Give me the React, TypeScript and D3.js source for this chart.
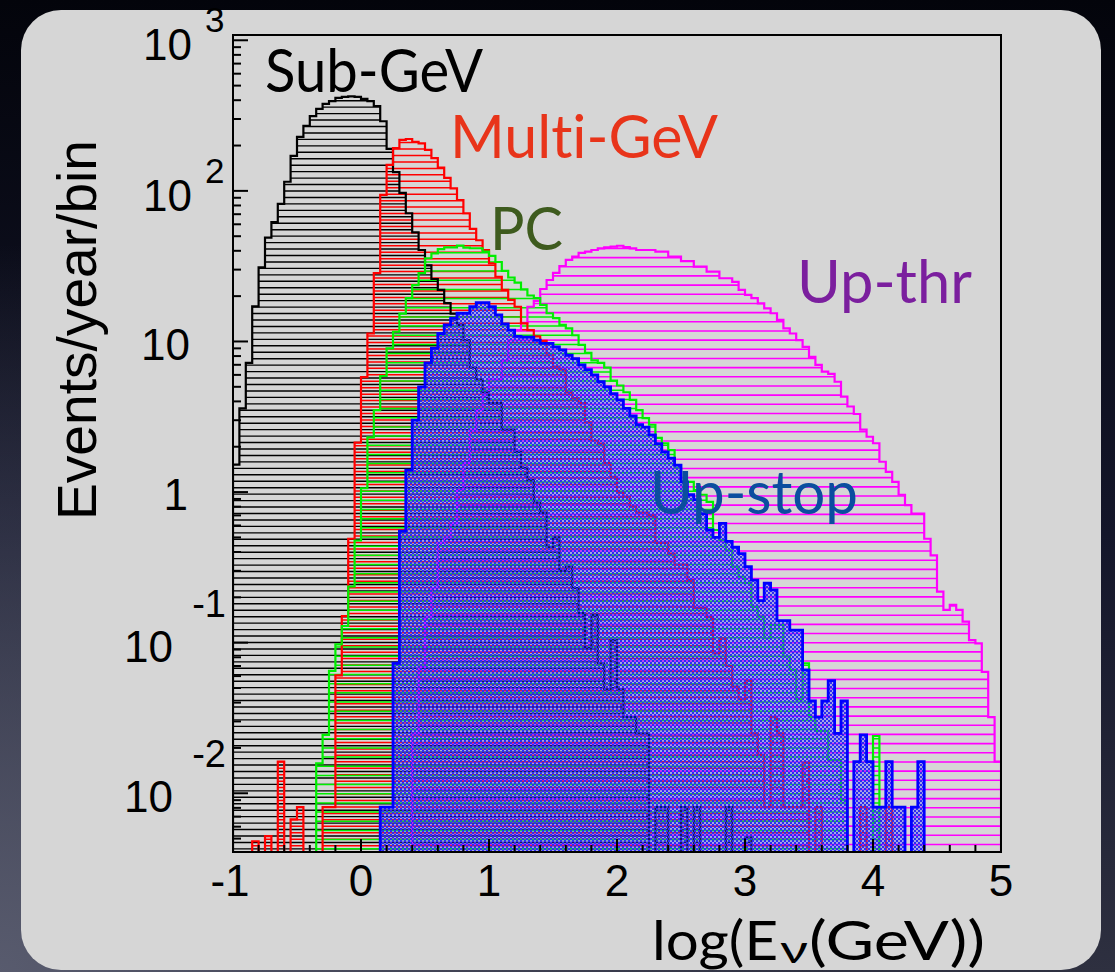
import React from 'react';
import * as d3 from 'd3';

// ---- binning (120 bins of 0.05 in log10(E/GeV) from -1 to 5) ----
const X_MIN = -1;
const BIN_W = 0.05;

// ---- series values (events / year / bin) ----
const subGeV = [
  1.52, 3.6, 7.2, 17.1, 31, 49, 62, 82, 115, 171,
  228, 270, 314, 350, 378, 395, 414, 421, 424, 421,
  408, 395, 366, 290, 190, 133, 97, 71, 53, 40.5,
  32, 26, 22, 18, 15.3, 12.9, 10.2, 6.7, 5.6, 4.6,
  3.9, 3.9, 2.6, 2.6, 1.85, 1.45, 1.2, 0.85, 0.73, 0.43,
  0.5, 0.3, 0.32, 0.23, 0.157, 0.092, 0.153, 0.073, 0.049, 0.104,
  0.049, 0.032, 0.032, 0.025, 0.025, 0, 0.0081, 0.0081, 0, 0,
  0.0081, 0, 0.0081, 0, 0, 0, 0, 0.0081, 0, 0,
  0.0051, 0, 0, 0, 0, 0, 0, 0, 0, 0,
  0, 0, 0, 0, 0, 0, 0, 0, 0, 0,
  0, 0, 0, 0, 0, 0, 0, 0, 0, 0,
  0, 0, 0, 0, 0, 0, 0, 0, 0, 0,
];

const multiGeV = [
  0, 0, 0, 0.0048, 0, 0.0052, 0, 0.0162, 0, 0.0067,
  0.0081, 0, 0, 0, 0.0081, 0.0081, 0.0606, 0.15, 0.49, 2.13,
  5.8, 11.3, 28.4, 94, 149, 192, 218, 221, 212, 207,
  187, 165, 143, 122, 104, 87, 71, 56, 47, 40.5,
  33, 26.9, 22, 18.9, 17, 13.2, 11.9, 10.8, 10.1, 8.1,
  6.8, 6.5, 4.6, 4.2, 3.9, 2.9, 2.2, 2.1, 1.56, 1.26,
  0.99, 0.93, 0.8, 0.73, 0.73, 0.7, 0.46, 0.46, 0.39, 0.33,
  0.33, 0.26, 0.17, 0.17, 0.148, 0.085, 0.107, 0.07, 0.051, 0.042,
  0.056, 0.025, 0.018, 0.0081, 0.032, 0.025, 0.0081, 0.0081, 0.0081, 0.016,
  0, 0.0081, 0, 0, 0, 0, 0, 0, 0.0081, 0,
  0, 0, 0.0081, 0, 0, 0, 0, 0, 0, 0,
  0, 0, 0, 0, 0, 0, 0, 0, 0, 0,
];

const pc = [
  0, 0, 0, 0, 0, 0, 0, 0, 0, 0,
  0, 0, 0, 0.0158, 0.0244, 0.065, 0.0975, 0.129, 0.236, 0.477,
  1.06, 2.31, 3.5, 5.9, 9.0, 11.6, 15.3, 19.4, 23.7, 28.4,
  35.7, 38.5, 41.1, 42.2, 42.2, 43.3, 42, 41.6, 41.6, 39.5,
  37, 33.7, 29.4, 26.6, 24.6, 22.2, 20.2, 19.4, 17.5, 15.4,
  14.3, 12.9, 12.2, 11.0, 9.5, 8.4, 7.5, 7.2, 6.7, 5.5,
  5.1, 4.6, 4.1, 3.5, 3.1, 2.8, 2.29, 2.11, 1.9, 1.45,
  1.17, 1.17, 1.03, 0.96, 0.86, 0.56, 0.48, 0.41, 0.32, 0.274,
  0.249, 0.173, 0.149, 0.107, 0.131, 0.131, 0.081, 0.066, 0.042, 0.073,
  0.032, 0.026, 0.026, 0.0166, 0.0166, 0.009, 0, 0, 0, 0,
  0.024, 0, 0, 0, 0, 0, 0, 0, 0, 0,
  0, 0, 0, 0, 0, 0, 0, 0, 0, 0,
];

const upStop = [
  0, 0, 0, 0, 0, 0, 0, 0, 0, 0,
  0, 0, 0, 0, 0, 0, 0, 0, 0, 0,
  0, 0, 0, 0.0081, 0.0081, 0.073, 0.55, 1.4, 3.0, 5.0,
  7.2, 9.0, 11.3, 12.9, 14.3, 15.4, 15.4, 17.0, 18.1, 18.1,
  17.0, 15.0, 13.1, 11.9, 10.8, 10.7, 10.7, 10.2, 9.7, 9.7,
  9.2, 8.8, 8.1, 7.7, 7.0, 6.5, 6.0, 5.4, 5.0, 4.5,
  4.1, 3.6, 3.2, 2.8, 2.7, 2.4, 2.1, 1.85, 1.68, 1.51,
  1.17, 0.96, 0.89, 0.72, 0.56, 0.5, 0.62, 0.47, 0.43, 0.39,
  0.32, 0.26, 0.19, 0.248, 0.224, 0.14, 0.14, 0.121, 0.121, 0.066,
  0.041, 0.032, 0.041, 0.056, 0.025, 0.041, 0, 0.0162, 0.0244, 0.0162,
  0.0081, 0.0081, 0.0162, 0.0081, 0.0081, 0, 0.0081, 0.0162, 0, 0,
  0, 0, 0, 0, 0, 0, 0, 0, 0, 0,
];

const upThr = [
  0, 0, 0, 0, 0, 0, 0, 0, 0, 0,
  0, 0, 0, 0, 0, 0, 0, 0, 0, 0,
  0, 0, 0, 0, 0, 0, 0, 0, 0.025, 0.069,
  0.149, 0.23, 0.46, 0.5, 0.62, 1.03, 1.56, 2.6, 3.5, 4.5,
  5.6, 5.6, 7.5, 10.2, 11.9, 13.3, 17.0, 18.6, 22.3, 25.6,
  28.5, 31.7, 34.8, 36.6, 38.7, 39.5, 40.5, 41.5, 42.2, 42.6,
  43.2, 42.4, 41.5, 40.5, 40.5, 40.5, 39.5, 39.5, 36.6, 36.6,
  34.2, 34.2, 31.4, 31.4, 29.1, 29.1, 26.3, 26.3, 24.9, 22.0,
  20.4, 19.4, 17.9, 16.6, 15.4, 13.9, 12.2, 11.3, 10.2, 9.2,
  7.9, 7.0, 6.3, 6.1, 5.4, 4.3, 3.7, 3.3, 2.6, 2.33,
  2.11, 1.59, 1.36, 1.17, 0.96, 0.82, 0.72, 0.72, 0.49, 0.38,
  0.218, 0.165, 0.178, 0.165, 0.138, 0.104, 0.099, 0.064, 0.032, 0.0162,
];

// ---- axis ticks ----
const X_TICKS = [-1, 0, 1, 2, 3, 4, 5];
const Y_DECADES = [-2, -1, 0, 1, 2, 3];

// ---- labels ----
const SERIES_LABELS = ['Sub-GeV', 'Multi-GeV', 'PC', 'Up-thr', 'Up-stop'];

const W = 1115;
const H = 972;
const PL = 233, PR = 1001, PT = 35, PB = 852;

const xS = d3.scaleLinear().domain([-1, 5]).range([PL, PR]);
const yS = d3.scaleLog().domain([0.004074, 1084]).range([PB, PT]);

function edge(i: number) {
  return X_MIN + i * BIN_W;
}

function histPath(vals: number[]) {
  const first = vals.findIndex((v) => v > 0);
  let last = vals.length - 1;
  while (last > 0 && !(vals[last] > 0)) last--;
  const bot = PB + 3;
  const yy = (v: number) => (v > 0 ? Math.min(yS(v), bot) : bot);
  let d = `M${xS(edge(first))},${bot}`;
  for (let i = first; i <= last; i++) {
    const yv = yy(vals[i]);
    d += `L${xS(edge(i))},${yv}L${xS(edge(i + 1))},${yv}`;
  }
  d += `L${xS(edge(last + 1))},${bot}Z`;
  return d;
}

function Hatch({ id, d, color, spacing, phase, width }: any) {
  const lines: number[] = [];
  for (let yy = PT + phase; yy < PB; yy += spacing) lines.push(yy);
  return (
    <g>
      <clipPath id={id}>
        <path d={d} />
      </clipPath>
      <g clipPath={`url(#${id})`}>
        {lines.map((yy, i) => (
          <line key={i} x1={PL} x2={PR} y1={yy} y2={yy} stroke={color} strokeWidth={width} />
        ))}
      </g>
    </g>
  );
}

const noLig: React.CSSProperties = { fontVariantLigatures: 'none', fontFeatureSettings: '"liga" 0, "clig" 0' };

export default function App() {
  const pBlack = histPath(subGeV);
  const pRed = histPath(multiGeV);
  const pGreen = histPath(pc);
  const pBlue = histPath(upStop);
  const pMag = histPath(upThr);

  const yMinor: number[] = [];
  for (let k = -3; k <= 3; k++) {
    for (let m = 2; m <= 9; m++) {
      const v = m * Math.pow(10, k);
      if (v > yS.domain()[0] && v < yS.domain()[1]) yMinor.push(v);
    }
  }
  const xMinor: number[] = [];
  for (let t = -1; t <= 5.0001; t += 0.2) xMinor.push(Math.round(t * 10) / 10);

  const tickFont = "'Liberation Sans', Arial, Helvetica, sans-serif";
  const gill = "Lato, 'Open Sans', sans-serif";

  return (
    <svg
      width={W}
      height={H}
      viewBox={`0 0 ${W} ${H}`}
      style={{ position: 'absolute', left: 0, top: 0, display: 'block' }}
    >
      <defs>
        <linearGradient id="bgLin" x1="0" y1="0" x2="0" y2="1">
          <stop offset="0" stopColor="#03040b" />
          <stop offset="0.55" stopColor="#14162a" />
          <stop offset="1" stopColor="#2e3040" />
        </linearGradient>
        <radialGradient id="bgRad" cx="0" cy="1" r="0.75">
          <stop offset="0" stopColor="#5a5d70" stopOpacity="0.95" />
          <stop offset="1" stopColor="#5a5d70" stopOpacity="0" />
        </radialGradient>
        <pattern id="blueChk" patternUnits="userSpaceOnUse" width="4" height="4">
          <rect x="0" y="0" width="4" height="4" fill="rgba(70,70,255,0.34)" />
          <rect x="0" y="0" width="2" height="2" fill="#2c2cf4" />
          <rect x="2" y="2" width="2" height="2" fill="#2c2cf4" />
        </pattern>
        <clipPath id="plotClip">
          <rect x={PL} y={PT} width={PR - PL} height={PB - PT} />
        </clipPath>
      </defs>

      <rect x={0} y={0} width={W} height={H} fill="url(#bgLin)" />
      <rect x={0} y={0} width={W} height={H} fill="url(#bgRad)" />
      <rect x={21} y={10} width={1080} height={960} rx={40} ry={40} fill="#d6d6d6" />

      <g clipPath="url(#plotClip)">
        {/* hatched fills */}
        <Hatch id="hMag" d={pMag} color="#ff00ff" spacing={9.17} phase={2.5} width={1.6} />
        <Hatch id="hBlack" d={pBlack} color="#000" spacing={6.45} phase={1.2} width={1.4} />
        <Hatch id="hRed" d={pRed} color="#ff0000" spacing={6.45} phase={4.4} width={1.5} />
        <Hatch id="hGreen" d={pGreen} color="#00ee00" spacing={9.17} phase={6.8} width={1.5} />

        {/* outlines */}
        <path d={pMag} fill="none" stroke="#ff00ff" strokeWidth={2.2} />
        <path d={pBlack} fill="none" stroke="#000" strokeWidth={2.2} />
        <path d={pRed} fill="none" stroke="#ff0000" strokeWidth={2.2} />
        <path d={pGreen} fill="none" stroke="#00ee00" strokeWidth={2.2} />

        {/* Up-stop on top with fine checker fill */}
        <path d={pBlue} fill="url(#blueChk)" stroke="none" />
        <path d={pBlue} fill="none" stroke="#0000ff" strokeWidth={2.8} />
      </g>

      {/* frame */}
      <rect x={PL} y={PT} width={PR - PL} height={PB - PT} fill="none" stroke="#000" strokeWidth={2} />

      {/* y ticks */}
      {Y_DECADES.map((k) => (
        <line key={'ym' + k} x1={PL} x2={PL + 15} y1={yS(Math.pow(10, k))} y2={yS(Math.pow(10, k))} stroke="#000" strokeWidth={2} />
      ))}
      {yMinor.map((v, i) => (
        <line key={'yn' + i} x1={PL} x2={PL + 8} y1={yS(v)} y2={yS(v)} stroke="#000" strokeWidth={2} />
      ))}
      {/* x ticks */}
      {xMinor.map((t, i) => {
        const major = Math.abs(t - Math.round(t)) < 1e-6;
        return (
          <line key={'xt' + i} x1={xS(t)} x2={xS(t)} y1={PB} y2={PB - (major ? 13 : 7)} stroke="#000" strokeWidth={2} />
        );
      })}

      {/* y tick labels, ROOT style */}
      {Y_DECADES.map((k) => {
        const yy = yS(Math.pow(10, k));
        if (k === 0)
          return (
            <text key={'yl' + k} x={188} y={yy + 18} fontFamily={tickFont} fontSize={44} textAnchor="end">1</text>
          );
        if (k === 1)
          return (
            <text key={'yl' + k} x={190} y={yy + 19} fontFamily={tickFont} fontSize={44} textAnchor="end">10</text>
          );
        if (k > 1)
          return (
            <g key={'yl' + k}>
              <text x={192} y={yy + 20} fontFamily={tickFont} fontSize={44} textAnchor="end">10</text>
              <text x={205} y={yy - 8} fontFamily={tickFont} fontSize={35} textAnchor="start">{String(k)}</text>
            </g>
          );
        return (
          <g key={'yl' + k}>
            <text x={226} y={yy - 26} fontFamily={tickFont} fontSize={38} textAnchor="end">{String(k)}</text>
            <text x={173} y={yy + 19} fontFamily={tickFont} fontSize={44} textAnchor="end">10</text>
          </g>
        );
      })}

      {/* x tick labels */}
      {X_TICKS.map((t) => (
        <text key={'xl' + t} x={xS(t) + (t < 0 ? -3 : 0)} y={896} fontFamily={tickFont} fontSize={44} textAnchor="middle">
          {String(t)}
        </text>
      ))}

      {/* axis titles */}
      <text
        transform="translate(96,330) rotate(-90)"
        fontFamily={tickFont}
        fontSize={56}
        textAnchor="middle"
        textLength={380}
        lengthAdjust="spacingAndGlyphs"
      >
        Events/year/bin
      </text>
      <text x={652} y={960} fontFamily={gill} fontSize={55} style={noLig} textLength={126} lengthAdjust="spacingAndGlyphs">log(E</text>
      <text x={780} y={963} fontFamily={gill} fontSize={38} textLength={28} lengthAdjust="spacingAndGlyphs">ν</text>
      <text x={809} y={960} fontFamily={gill} fontSize={55} style={noLig} textLength={176} lengthAdjust="spacingAndGlyphs">(GeV))</text>

      {/* series labels */}
      <text x={265} y={92} fontFamily={gill} fontSize={60} fill="#000" style={noLig} textLength={218} lengthAdjust="spacingAndGlyphs">{SERIES_LABELS[0]}</text>
      <text x={450} y={158} fontFamily={gill} fontSize={60} fill="#e8341a" style={noLig} textLength={268} lengthAdjust="spacingAndGlyphs">{SERIES_LABELS[1]}</text>
      <text x={490} y={250} fontFamily={gill} fontSize={60} fill="#3e5b1e" style={noLig} textLength={73} lengthAdjust="spacingAndGlyphs">{SERIES_LABELS[2]}</text>
      <text x={797} y={303} fontFamily={gill} fontSize={60} fill="#7b1f9e" style={noLig} textLength={175} lengthAdjust="spacingAndGlyphs">{SERIES_LABELS[3]}</text>
      <text x={650} y={514} fontFamily={gill} fontSize={60} fill="#0b4d9f" style={noLig} textLength={208} lengthAdjust="spacingAndGlyphs">{SERIES_LABELS[4]}</text>
    </svg>
  );
}
